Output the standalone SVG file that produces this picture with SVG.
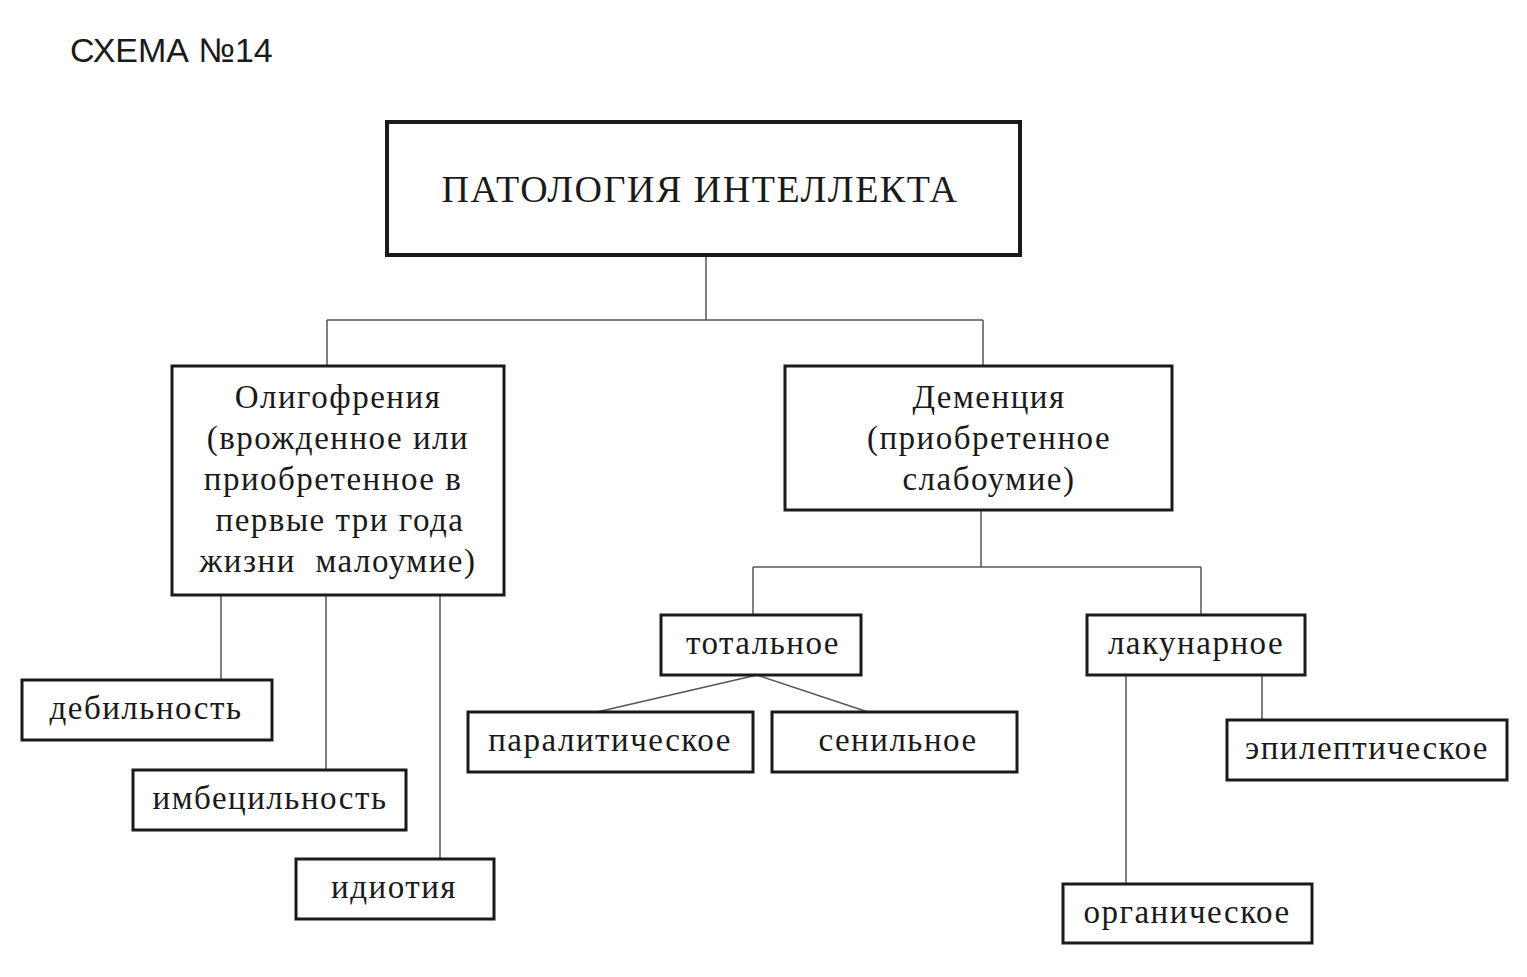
<svg xmlns="http://www.w3.org/2000/svg" width="1527" height="977" viewBox="0 0 1527 977">
<style>
.b{fill:#fff;stroke:#1a1a1a;stroke-width:3}
.t{font-family:"Liberation Serif",serif;font-size:33px;fill:#1a1a1a;text-anchor:middle;letter-spacing:1.5px}
.c{fill:none;stroke:#555;stroke-width:1.5}
</style>
<rect width="1527" height="977" fill="#fff"/>
<text x="70" y="62" font-family="Liberation Sans,sans-serif" font-size="34" fill="#1a1a1a">СХЕМА №14</text>
<g id="connectors" class="c">
<path d="M706 255V320M327 320H983M327 320V366M983 320V366"/>
<path d="M221 595V680M326 595V770M440 595V859"/>
<path d="M981 510V567M753 567H1201M753 567V615M1201 567V615"/>
<path d="M757 675L597 712M757 675L868 712"/>
<path d="M1126 675V884M1262 675V720"/>
</g>
<g id="root"><rect class="b" x="387" y="122" width="633" height="133" style="stroke-width:4"/><text class="t" x="700" y="202" style="font-size:38px">ПАТОЛОГИЯ ИНТЕЛЛЕКТА</text></g>
<g id="oligo"><rect class="b" x="172" y="366" width="332" height="229"/>
<text class="t" x="338" y="408">Олигофрения</text>
<text class="t" x="338" y="449">(врожденное или</text>
<text class="t" x="333" y="490">приобретенное в</text>
<text class="t" x="340" y="531">первые три года</text>
<text class="t" x="338" y="572" xml:space="preserve">жизни  малоумие)</text></g>
<g id="dementia"><rect class="b" x="785" y="366" width="387" height="144"/>
<text class="t" x="989" y="408">Деменция</text>
<text class="t" x="989" y="449">(приобретенное</text>
<text class="t" x="989" y="490">слабоумие)</text></g>
<g id="debil"><rect class="b" x="22" y="680" width="250" height="60"/><text class="t" x="146" y="719">дебильность</text></g>
<g id="imbec"><rect class="b" x="133" y="770" width="273" height="60"/><text class="t" x="270" y="809">имбецильность</text></g>
<g id="idiot"><rect class="b" x="296" y="859" width="198" height="60"/><text class="t" x="394" y="898">идиотия</text></g>
<g id="total"><rect class="b" x="661" y="615" width="200" height="60"/><text class="t" x="763" y="654">тотальное</text></g>
<g id="lacun"><rect class="b" x="1087" y="615" width="218" height="60"/><text class="t" x="1196" y="654">лакунарное</text></g>
<g id="paral"><rect class="b" x="468" y="712" width="285" height="60"/><text class="t" x="610" y="751">паралитическое</text></g>
<g id="senil"><rect class="b" x="772" y="712" width="245" height="60"/><text class="t" x="898" y="751">сенильное</text></g>
<g id="epil"><rect class="b" x="1227" y="720" width="280" height="60"/><text class="t" x="1367" y="759">эпилептическое</text></g>
<g id="organ"><rect class="b" x="1063" y="884" width="249" height="59"/><text class="t" x="1187" y="923">органическое</text></g>
</svg>
